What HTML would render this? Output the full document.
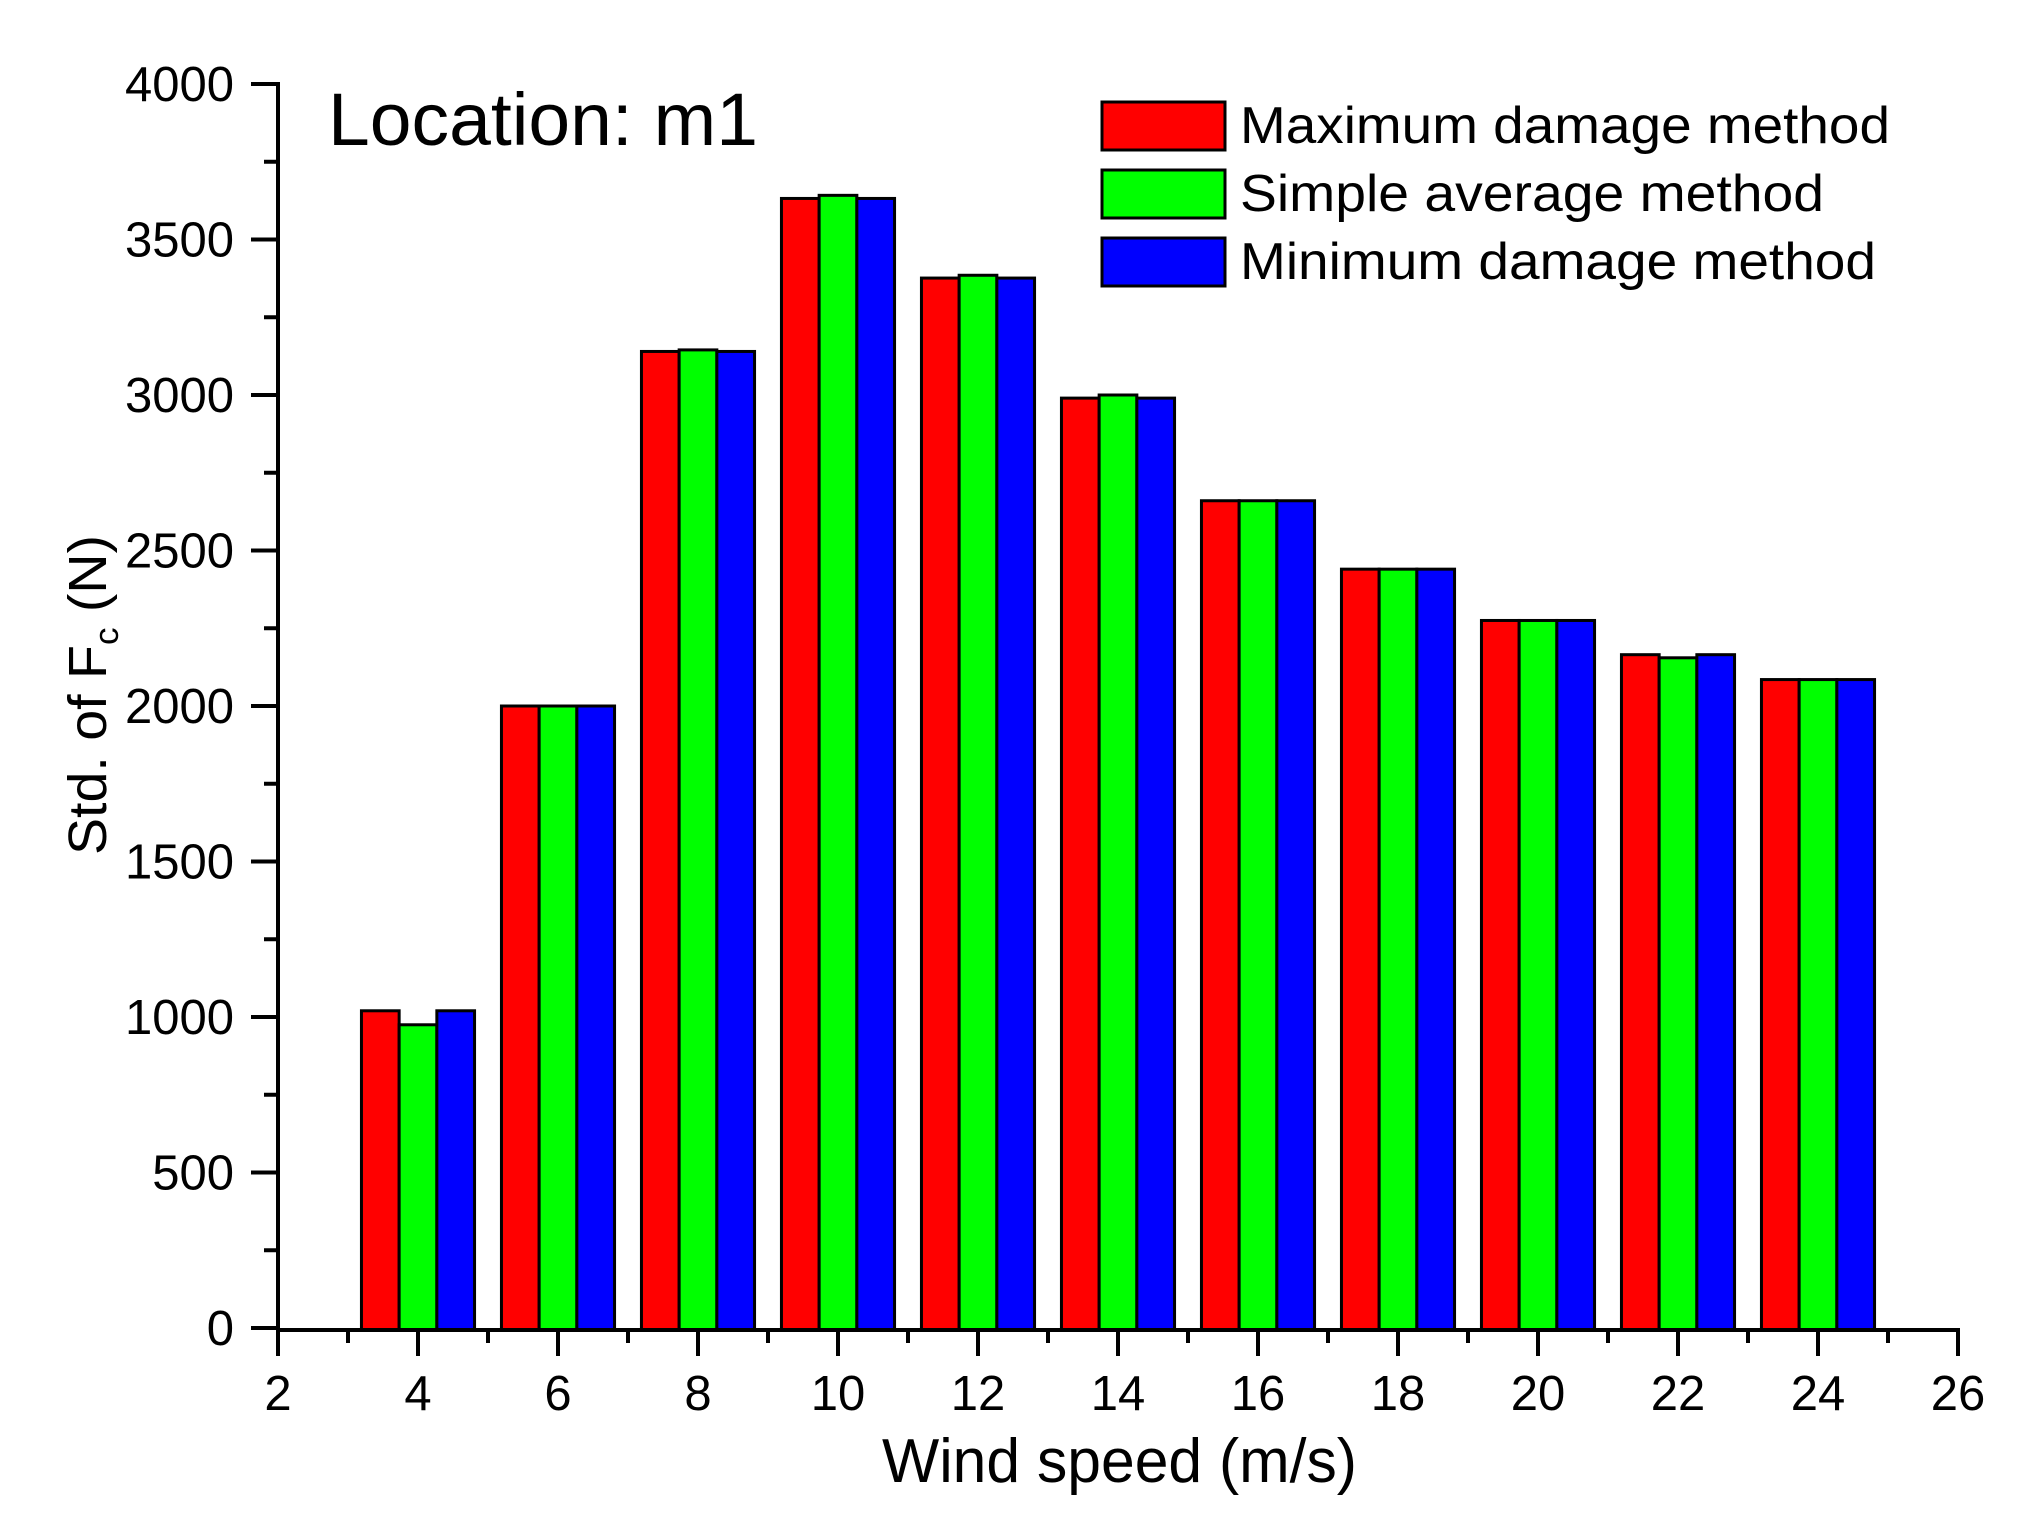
<!DOCTYPE html>
<html><head><meta charset="utf-8"><style>html,body{margin:0;padding:0;background:#fff}svg{display:block}</style></head>
<body>
<svg width="2033" height="1525" viewBox="0 0 2033 1525" xmlns="http://www.w3.org/2000/svg" font-family="Liberation Sans, Arial, sans-serif">
<rect width="2033" height="1525" fill="#fff"/>
<g id="bars" stroke="#000" stroke-width="3"></g>
<g stroke="#000" stroke-width="4" fill="none" id="axes">
<line x1="278" y1="82" x2="278" y2="1330"/>
<line x1="276" y1="1330" x2="1960" y2="1330"/>
</g>
<g id="ticks" stroke="#000" stroke-width="4"></g>
<g id="labels" font-size="49" fill="#000"></g>
<text x="328" y="145" font-size="74" textLength="430" lengthAdjust="spacingAndGlyphs">Location: m1</text>
<rect x="1102" y="102" width="123" height="48" fill="#ff0000" stroke="#000" stroke-width="3"/>
<rect x="1102" y="170" width="123" height="48" fill="#00ff00" stroke="#000" stroke-width="3"/>
<rect x="1102" y="238" width="123" height="48" fill="#0000ff" stroke="#000" stroke-width="3"/>
<text x="1240" y="143" font-size="52" textLength="650" lengthAdjust="spacingAndGlyphs">Maximum damage method</text>
<text x="1240" y="211" font-size="52" textLength="584" lengthAdjust="spacingAndGlyphs">Simple average method</text>
<text x="1240" y="279" font-size="52" textLength="636" lengthAdjust="spacingAndGlyphs">Minimum damage method</text>
<text x="882" y="1482" font-size="62" textLength="475" lengthAdjust="spacingAndGlyphs">Wind speed (m/s)</text>
<text transform="translate(106,855) rotate(-90)" font-size="54" textLength="320" lengthAdjust="spacingAndGlyphs">Std. of F<tspan font-size="34" dy="12">c</tspan><tspan dy="-12"> (N)</tspan></text>
<script>
var ns="http://www.w3.org/2000/svg";
function X(v){return 278+(v-2)*70;}
function Y(v){return 1328-v*0.311;}
var data=[[4,1020,975,1020],[6,2000,2000,2000],[8,3140,3145,3140],[10,3632,3642,3632],[12,3376,3385,3376],[14,2990,3000,2990],[16,2660,2660,2660],[18,2440,2440,2440],[20,2275,2275,2275],[22,2165,2155,2165],[24,2085,2085,2085]];
var cols=["#ff0000","#00ff00","#0000ff"],bw=37.7;
var g=document.getElementById("bars");
data.forEach(function(d){for(var i=0;i<3;i++){var r=document.createElementNS(ns,"rect");var x0=X(d[0])-1.5*bw+i*bw;r.setAttribute("x",x0);r.setAttribute("y",Y(d[i+1]));r.setAttribute("width",bw);r.setAttribute("height",1330-Y(d[i+1]));r.setAttribute("fill",cols[i]);g.appendChild(r);}});
var t=document.getElementById("ticks"),L=document.getElementById("labels");
function ln(a,b,c,d){var l=document.createElementNS(ns,"line");l.setAttribute("x1",a);l.setAttribute("y1",b);l.setAttribute("x2",c);l.setAttribute("y2",d);t.appendChild(l);}
function tx(x,y,s,anc){var e=document.createElementNS(ns,"text");e.setAttribute("x",x);e.setAttribute("y",y);e.setAttribute("text-anchor",anc);e.textContent=s;L.appendChild(e);}
for(var v=0;v<=4000;v+=250){var y=Y(v);if(v%500==0){ln(251,y,278,y);tx(234,y+17,String(v),"end");}else ln(264,y,278,y);}
for(var x=2;x<=26;x++){var px=X(x);if(x%2==0){ln(px,1330,px,1356);tx(px,1410,String(x),"middle");}else ln(px,1330,px,1343);}
</script>
</svg>
</body></html>
